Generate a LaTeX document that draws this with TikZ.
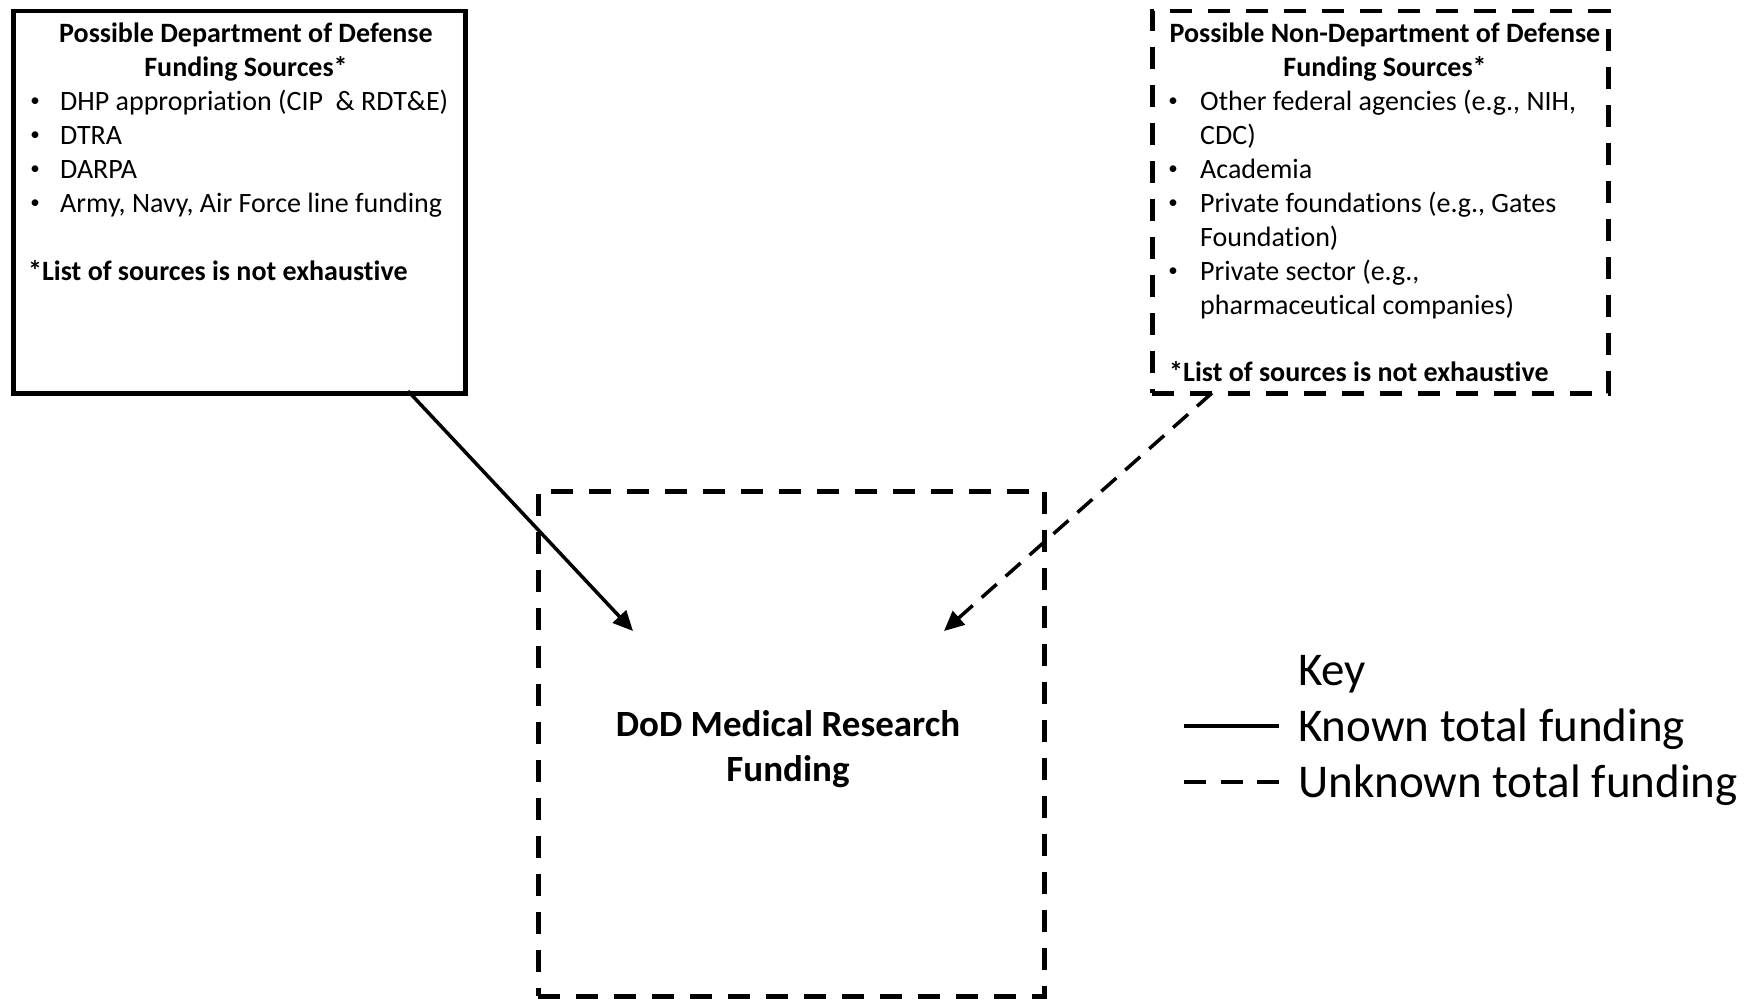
\documentclass[tikz,border=0pt]{standalone}
\usepackage{fontspec}
\setmainfont[Ligatures=NoCommon]{Carlito}
\usetikzlibrary{arrows.meta}
\tikzset{
  boxtxt/.style={inner sep=0pt, anchor=base west, font=\fontsize{28}{34}\selectfont},
  boxtitle/.style={inner sep=0pt, anchor=base, font=\fontsize{28}{34}\selectfont\bfseries},
  bul/.style={inner sep=0pt, anchor=base, font=\fontsize{19}{34}\selectfont, yshift=4pt},
  solidbox/.style={draw, line width=4.5pt, anchor=north west, inner sep=0pt},
  dashbox/.style={draw, line width=4.5pt, dash pattern=on 22pt off 16pt, anchor=north west, inner sep=0pt},
  conn/.style={line width=3.5pt, -{Triangle[length=20pt,width=18pt]}},
  keytxt/.style={inner sep=0pt, anchor=base west, font=\fontsize{47}{56}\selectfont},
}
\begin{document}
\begin{tikzpicture}[x=1pt,y=-1pt]
\useasboundingbox (0,0) rectangle (1752,998);
% boxes
\node[solidbox, minimum width=452pt, minimum height=382pt] (dod) at (11,9) {};
\node[dashbox, minimum width=456pt, minimum height=382pt] (nondod) at (1150,9) {};
\node[dashbox, minimum width=506pt, minimum height=505pt] (center) at (536,489) {};
% left box text
\node[boxtitle] (t1) at (246,43) {Possible Department of Defense};
\node[boxtitle] (t2) at (246,77) {Funding Sources*};
\node[bul] (b1) at (35,110.5) {•};
\node[boxtxt] (l1) at (60,110.5) {DHP appropriation (CIP \ \& RDT\&E)};
\node[bul] (b2) at (35,144.5) {•};
\node[boxtxt] (l2) at (60,144.5) {DTRA};
\node[bul] (b3) at (35,178) {•};
\node[boxtxt] (l3) at (60,178) {DARPA};
\node[bul] (b4) at (35,212) {•};
\node[boxtxt] (l4) at (60,212) {Army, Navy, Air Force line funding};
\node[boxtxt, font=\fontsize{28}{34}\selectfont\bfseries] (f1) at (28,280) {*List of sources is not exhaustive};
% right box text
\node[boxtitle] (r1) at (1385,43) {Possible Non-Department of Defense};
\node[boxtitle] (r2) at (1385,77) {Funding Sources*};
\node[bul] (rb1) at (1173,110.5) {•};
\node[boxtxt] (rl1) at (1200,110.5) {Other federal agencies (e.g., NIH,};
\node[boxtxt] (rl1b) at (1200,144.5) {CDC)};
\node[bul] (rb2) at (1173,178) {•};
\node[boxtxt] (rl2) at (1200,178) {Academia};
\node[bul] (rb3) at (1173,212) {•};
\node[boxtxt] (rl3) at (1200,212) {Private foundations (e.g., Gates};
\node[boxtxt] (rl3b) at (1200,246) {Foundation)};
\node[bul] (rb4) at (1173,280) {•};
\node[boxtxt] (rl4) at (1200,280) {Private sector (e.g.,};
\node[boxtxt] (rl4b) at (1200,314) {pharmaceutical companies)};
\node[boxtxt, font=\fontsize{28}{34}\selectfont\bfseries] (rf) at (1169,381) {*List of sources is not exhaustive};
% center text
\node[inner sep=0pt, anchor=base, font=\fontsize{37}{45}\selectfont\bfseries] (c1) at (788,736) {DoD Medical Research};
\node[inner sep=0pt, anchor=base, font=\fontsize{37}{45}\selectfont\bfseries] (c2) at (788,781) {Funding};
% connectors
\coordinate (s1) at (408,391);
\coordinate (e1) at (633,631);
\coordinate (s2) at (1212,393);
\coordinate (e2) at (944,631);
\draw[conn] (s1) -- (e1);
\draw[conn, dash pattern=on 20pt off 12pt] (s2) -- (e2);
% key
\node[keytxt] (k0) at (1298,685) {Key};
\node[keytxt] (k1) at (1298,741) {Known total funding};
\node[keytxt] (k2) at (1298,797) {Unknown total funding};
\coordinate (ka) at (1184,726);
\coordinate (kb) at (1279,726);
\coordinate (kc) at (1184,782);
\coordinate (kd) at (1279,782);
\draw[line width=3.5pt] (ka) -- (kb);
\draw[line width=3.5pt, dash pattern=on 22pt off 14.5pt] (kc) -- (kd);
\end{tikzpicture}
\end{document}
